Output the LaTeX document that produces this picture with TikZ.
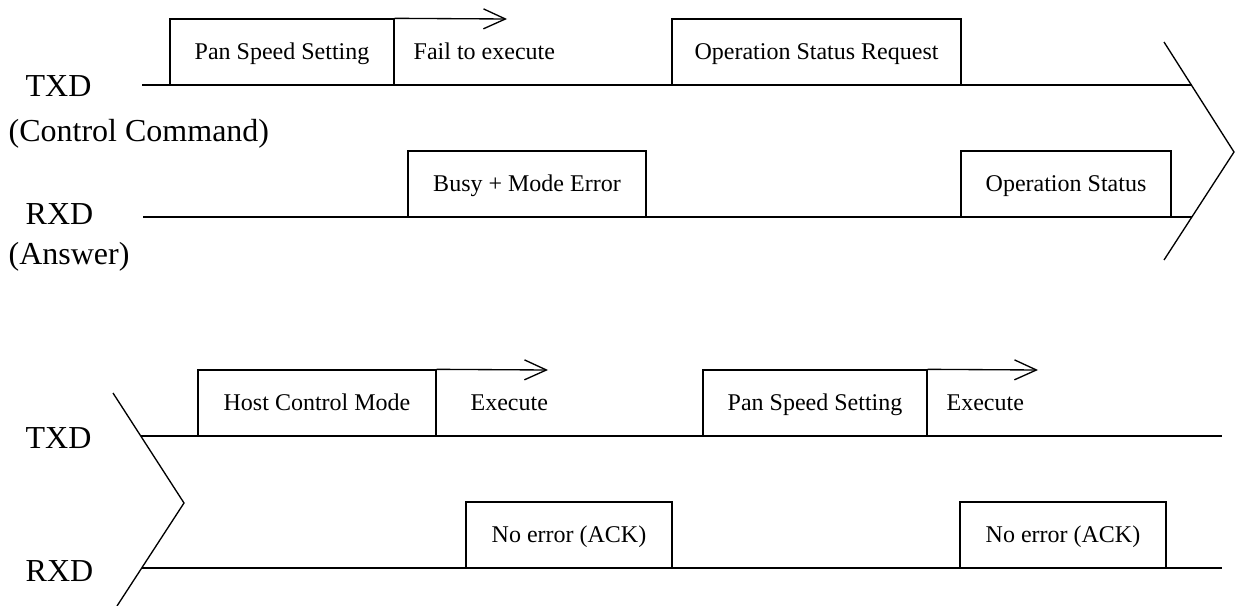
\documentclass[tikz,border=0pt]{standalone}
\usepackage{fontspec}
\setmainfont{Liberation Serif}
\usetikzlibrary{arrows.meta}

\tikzset{
  sigbox/.style={draw,inner sep=0pt,minimum height=49.5pt,text height=12.5pt,text depth=1.5pt,font=\fontsize{18}{20}\selectfont},
  sigtext/.style={anchor=base west,inner sep=0pt,font=\fontsize{18}{20}\selectfont},
  lbl/.style={anchor=base west,inner sep=0pt,font=\fontsize{24}{28}\selectfont}
}

\begin{document}
\begin{tikzpicture}[x=0.75pt,y=-0.75pt,line width=1pt,>={Straight Barb[length=16.5pt,width=15pt]}]
\useasboundingbox (0,0) rectangle (1242,606);
% upper part
\node[lbl] (txa) at (25,97) {TXD};
\node[lbl] (txacmt) at (8,142) {(Control Command)};
\node[lbl] (rxa) at (25,224) {RXD};
\node[lbl] (rxacmt) at (8,264) {(Answer)};
\coordinate (txas) at (142,85);
\coordinate (txae) at (1192,85);
\coordinate (rxas) at (143,217);
\coordinate (rxae) at (1192,217);
\draw (txas) -- (txae);
\draw (rxas) -- (rxae);
\node[sigbox,minimum width=168pt] (pana) at (282,52) {Pan Speed Setting};
\coordinate (faila) at (507,19);
\draw[->] (pana.north east) -- (faila);
\node[sigtext] (failtxt) at (413,60) {Fail to execute};
\node[sigbox,minimum width=216.75pt] (osreq) at (816.5,52) {Operation Status Request};
\node[sigbox,minimum width=178.5pt] (busy) at (527,184) {Busy + Mode Error};
\node[sigbox,minimum width=157.5pt] (opstat) at (1066,184) {Operation Status};
\draw (1164,42) -- (1234,152) -- (1164,260);
% lower part
\node[lbl] (txb) at (25,448) {TXD};
\node[lbl] (rxb) at (25,581) {RXD};
\coordinate (txbs) at (141,436);
\coordinate (txbe) at (1222,436);
\coordinate (rxbs) at (142,568);
\coordinate (rxbe) at (1222,568);
\draw (txbs) -- (txbe);
\draw (rxbs) -- (rxbe);
\node[sigbox,minimum width=178.5pt] (host) at (317,403) {Host Control Mode};
\coordinate (exea) at (548,370);
\draw[->] (host.north east) -- (exea);
\node[sigtext] (exeatxt) at (470,410) {Execute};
\node[sigbox,minimum width=168pt] (panb) at (815,403) {Pan Speed Setting};
\coordinate (exeb) at (1038,370);
\draw[->] (panb.north east) -- (exeb);
\node[sigtext] (exebtxt) at (946,410) {Execute};
\node[sigbox,minimum width=154.5pt] (acka) at (569,535) {No error (ACK)};
\node[sigbox,minimum width=154.5pt] (ackb) at (1063,535) {No error (ACK)};
\draw (113,393) -- (184,503) -- (117,606);
\end{tikzpicture}
\end{document}
